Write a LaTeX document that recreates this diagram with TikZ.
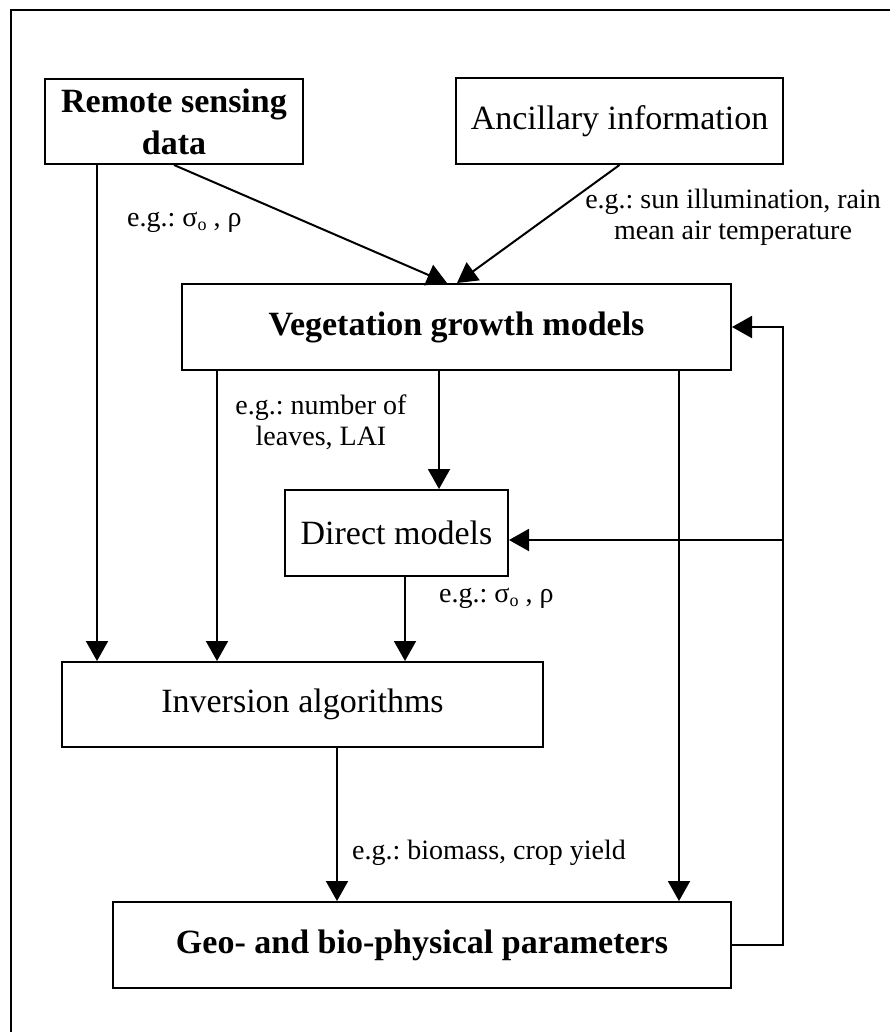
\documentclass[tikz,border=0pt]{standalone}
\usepackage{fontspec}
\setmainfont{Liberation Serif}
\usetikzlibrary{arrows.meta}
\begin{document}
\frenchspacing
\begin{tikzpicture}[x=1pt,y=-1pt,
  box/.style={draw,line width=2pt,rectangle,inner sep=0pt,align=center,font=\fontsize{34}{42}\selectfont},
  bbox/.style={box,font=\fontsize{34}{42}\selectfont\bfseries},
  lab/.style={inner sep=0pt,align=center,font=\fontsize{28}{31}\selectfont},
  arr/.style={draw,line width=2pt,-{Triangle[length=20pt,width=22pt]}},
  frame/.style={draw,line width=2.5pt}]
\useasboundingbox (0,0) rectangle (889,1032);
\draw[frame] (11,1040) -- (11,10) -- (895,10);
% boxes
\node[bbox,minimum width=258pt,minimum height=85pt] (rs) at (174,121.5) {Remote sensing\\data};
\node[box,minimum width=327pt,minimum height=86pt] (anc) at (619.5,121) {Ancillary information};
\node[bbox,minimum width=549pt,minimum height=86pt] (veg) at (456.5,327) {Vegetation growth models};
\node[box,minimum width=223pt,minimum height=86pt] (dir) at (396.5,533) {Direct models};
\node[box,minimum width=481pt,minimum height=85pt] (inv) at (302.5,704.5) {Inversion algorithms};
\node[bbox,minimum width=618pt,minimum height=86pt] (geo) at (422,945) {Geo- and bio-physical parameters};
% columns
\coordinate (x97) at (97,0);
\coordinate (x217) at (217,0);
\coordinate (x337) at (337,0);
\coordinate (x405) at (405,0);
\coordinate (x439) at (439,0);
\coordinate (x447) at (447,0);
\coordinate (x457) at (457,0);
\coordinate (x679) at (679,0);
\coordinate (x783) at (783,0);
\coordinate (fbm) at (783,540);
% connectors
\draw[arr] (rs.south -| x97) -- (inv.north -| x97);
\draw[arr] (rs.south) -- (veg.north -| x447);
\draw[arr] (anc.south) -- (veg.north -| x457);
\draw[arr] (veg.south -| x217) -- (inv.north -| x217);
\draw[arr] (veg.south -| x439) -- (dir.north -| x439);
\draw[arr] (veg.south -| x679) -- (geo.north -| x679);
\draw[arr] (dir.south -| x405) -- (inv.north -| x405);
\draw[arr] (inv.south -| x337) -- (geo.north -| x337);
\draw[arr] (geo.east) -- (geo.east -| x783) |- (veg.east);
\draw[arr] (fbm) -- (fbm -| dir.east);
% labels
\node[lab,anchor=west] (l1) at (127,222) {e.g.: σ\raisebox{-0.35ex}{\fontsize{18}{18}\selectfont o} , ρ};
\node[lab] (l2) at (733,217) {e.g.: sun illumination, rain\\mean air temperature};
\node[lab] (l3) at (321,422) {e.g.: number of\\leaves, LAI};
\node[lab,anchor=west] (l4) at (439,598) {e.g.: σ\raisebox{-0.35ex}{\fontsize{18}{18}\selectfont o} , ρ};
\node[lab,anchor=west] (l5) at (352,853) {e.g.: biomass, crop yield};
\end{tikzpicture}
\end{document}
